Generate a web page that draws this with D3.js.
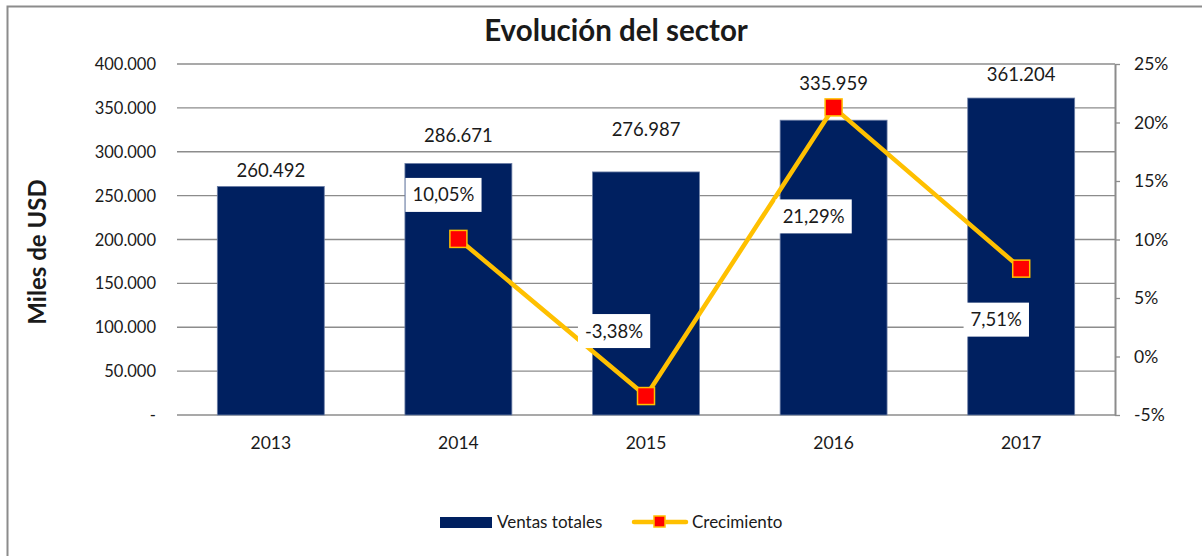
<!DOCTYPE html>
<html>
<head>
<meta charset="utf-8">
<script src="https://cdn.jsdelivr.net/npm/d3@7"></script>
<style>
  body { margin: 0; background: #fff; }
  text { font-family: Lato, "Open Sans", sans-serif; fill: #1a1a1a; }
</style>
</head>
<body>
<div class="chart"></div>
<script>
var years = ["2013", "2014", "2015", "2016", "2017"];
var ventas = [260492, 286671, 276987, 335959, 361204];
var crecimiento = [null, 0.1005, -0.0338, 0.2129, 0.0751];
var leftTicks = [0, 50000, 100000, 150000, 200000, 250000, 300000, 350000, 400000];
var rightTicks = [-0.05, 0, 0.05, 0.10, 0.15, 0.20, 0.25];

// hand-placed label offsets, as in the original sheet
var barLabelLift = [9, 21, 36, 30, 17];
var labelOffsets = [null, [-15, -44], [-32, -65], [-20, 109], [-25, 51]];

var width = 1202, height = 556;
var plotLeft = 177, plotRight = 1115, plotTop = 64, plotBottom = 415;

var es = d3.formatLocale({decimal: ",", thousands: ".", grouping: [3], currency: ["", ""], minus: "-"});
var fmtNum = es.format(",.0f");
var fmtPct = es.format(".2%");
var fmtAxisPct = es.format(".0%");

var svg = d3.select(".chart").append("svg")
  .attr("width", width)
  .attr("height", height);

// chart border (only top and left edges show)
svg.append("path")
  .attr("d", "M7.5," + height + "V6.5H" + width)
  .style("fill", "none")
  .style("stroke", "#8c8c8c")
  .style("stroke-width", 2);

var x = d3.scaleBand()
  .domain(years)
  .range([plotLeft, plotRight])
  .paddingInner(0.43)
  .paddingOuter(0.215);

var y = d3.scaleLinear().domain([0, 400000]).range([plotBottom, plotTop]);
var y2 = d3.scaleLinear().domain([-0.05, 0.25]).range([plotBottom, plotTop]);

// gridlines
svg.append("g")
  .selectAll("line")
  .data(leftTicks)
  .enter().append("line")
  .attr("x1", plotLeft)
  .attr("x2", plotRight)
  .attr("y1", d => y(d))
  .attr("y2", d => y(d))
  .style("stroke", "#8c8c8c")
  .style("stroke-width", 1.3);

// left axis labels
svg.append("g")
  .selectAll("text")
  .data(leftTicks)
  .enter().append("text")
  .attr("x", 156)
  .attr("y", d => y(d) + 6)
  .style("text-anchor", "end")
  .style("font-size", "16.5px")
  .text(d => d === 0 ? "-" : fmtNum(d));

// right axis
var rightAxis = d3.axisRight(y2)
  .tickValues(rightTicks)
  .tickSizeInner(5)
  .tickSizeOuter(0)
  .tickPadding(14)
  .tickFormat(d => fmtAxisPct(d));

var gr = svg.append("g")
  .attr("transform", "translate(" + plotRight + ",0)")
  .call(rightAxis);
gr.select(".domain").style("stroke", "#8c8c8c").style("stroke-width", 2);
gr.selectAll(".tick line").style("stroke", "#8c8c8c").style("stroke-width", 1.3);
gr.selectAll(".tick text")
  .style("font-size", "17.5px")
  .style("font-family", "Lato, sans-serif")
  .style("fill", "#1a1a1a");

// bars
svg.append("g")
  .selectAll("rect")
  .data(ventas)
  .enter().append("rect")
  .attr("x", (d, i) => x(years[i]))
  .attr("y", d => y(d))
  .attr("width", x.bandwidth())
  .attr("height", d => plotBottom - y(d))
  .style("fill", "#002060")
  .style("stroke", "#6d7fa6")
  .style("stroke-width", 0.8);

// bar value labels
svg.append("g")
  .selectAll("text")
  .data(ventas)
  .enter().append("text")
  .attr("x", (d, i) => x(years[i]) + x.bandwidth() / 2)
  .attr("y", (d, i) => y(d) - barLabelLift[i])
  .style("text-anchor", "middle")
  .style("font-size", "18.5px")
  .text(d => fmtNum(d));

// x labels
svg.append("g")
  .selectAll("text")
  .data(years)
  .enter().append("text")
  .attr("x", d => x(d) + x.bandwidth() / 2)
  .attr("y", 449)
  .style("text-anchor", "middle")
  .style("font-size", "17.5px")
  .text(d => d);

// growth line
var pts = crecimiento
  .map((d, i) => ({year: years[i], v: d, i: i}))
  .filter(d => d.v !== null);

var line = d3.line()
  .x(d => x(d.year) + x.bandwidth() / 2)
  .y(d => y2(d.v));

svg.append("path")
  .datum(pts)
  .attr("d", line)
  .style("fill", "none")
  .style("stroke", "#FFC000")
  .style("stroke-width", 4.5)
  .style("stroke-linejoin", "round");

var ms = 17;
svg.append("g")
  .selectAll("rect")
  .data(pts)
  .enter().append("rect")
  .attr("x", d => x(d.year) + x.bandwidth() / 2 - ms / 2)
  .attr("y", d => y2(d.v) - ms / 2)
  .attr("width", ms)
  .attr("height", ms)
  .style("fill", "#FF0000")
  .style("stroke", "#FFC000")
  .style("stroke-width", 1.5);

// growth labels in white boxes
var lab = svg.append("g")
  .selectAll("g")
  .data(pts)
  .enter().append("g")
  .attr("transform", d => "translate(" + (x(d.year) + x.bandwidth() / 2 + labelOffsets[d.i][0]) + "," + (y2(d.v) + labelOffsets[d.i][1]) + ")");

lab.append("text")
  .attr("y", 6.5)
  .style("text-anchor", "middle")
  .style("font-size", "18.5px")
  .text(d => fmtPct(d.v));

lab.each(function() {
  var g = d3.select(this);
  var bb = g.select("text").node().getBBox();
  g.insert("rect", "text")
    .attr("x", bb.x - 7)
    .attr("y", -17)
    .attr("width", bb.width + 14)
    .attr("height", 34)
    .style("fill", "#fff");
});

// title
svg.append("text")
  .attr("x", 616)
  .attr("y", 41)
  .style("text-anchor", "middle")
  .style("font-size", "29.5px")
  .style("font-weight", "bold")
  .text("Evolución del sector");

// y axis title
svg.append("text")
  .attr("transform", "translate(46,252) rotate(-90)")
  .style("text-anchor", "middle")
  .style("font-size", "24px")
  .style("font-weight", "bold")
  .text("Miles de USD");

// legend
var leg = svg.append("g");
leg.append("rect")
  .attr("x", 440)
  .attr("y", 517)
  .attr("width", 52)
  .attr("height", 11)
  .style("fill", "#002060");
leg.append("text")
  .attr("x", 497)
  .attr("y", 528)
  .style("font-size", "17px")
  .text("Ventas totales");
leg.append("line")
  .attr("x1", 634)
  .attr("x2", 686)
  .attr("y1", 522)
  .attr("y2", 522)
  .style("stroke", "#FFC000")
  .style("stroke-width", 4.5)
  .style("stroke-linecap", "round");
leg.append("rect")
  .attr("x", 654)
  .attr("y", 516)
  .attr("width", 11)
  .attr("height", 11)
  .style("fill", "#FF0000")
  .style("stroke", "#FFC000")
  .style("stroke-width", 1.5);
leg.append("text")
  .attr("x", 692)
  .attr("y", 528)
  .style("font-size", "17px")
  .text("Crecimiento");
</script>
</body>
</html>
